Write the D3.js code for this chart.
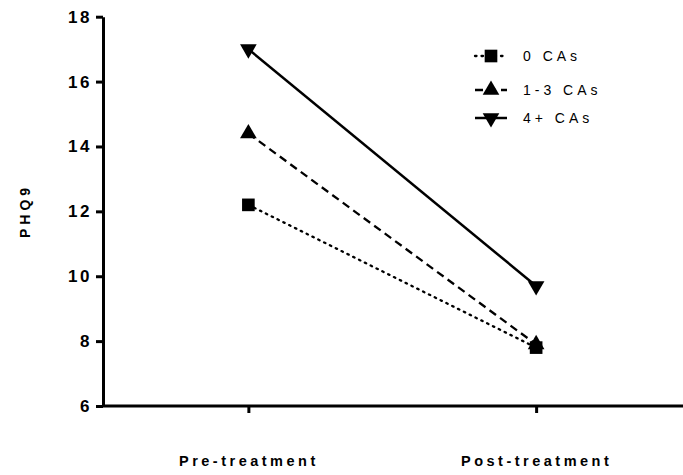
<!DOCTYPE html>
<html>
<head>
<meta charset="utf-8">
<script src="https://cdn.jsdelivr.net/npm/d3@7"></script>
<style>
  body { margin: 0; background: #fff; }
  svg text { font-family: "Liberation Sans", Arial, sans-serif; fill: #000; }
</style>
</head>
<body>
<div id="chart"></div>
<script>
// 数据
const timepoints = ['Pre-treatment', 'Post-treatment'];
const groupNames = ['0 CAs', '1-3 CAs', '4+ CAs'];
const zeroCAs = [12.2, 7.8];
const oneToThreeCAs = [14.4, 7.9];
const fourPlusCAs = [17.0, 9.7];
const yTicks = [6, 8, 10, 12, 14, 16, 18];

const series = [
  { name: groupNames[0], values: zeroCAs, dash: '1.5,5', symbol: 'square' },
  { name: groupNames[1], values: oneToThreeCAs, dash: '8,5', symbol: 'up' },
  { name: groupNames[2], values: fourPlusCAs, dash: null, symbol: 'down' }
];

const width = 683, height = 475;
const margin = { top: 16.7, right: 3, bottom: 69, left: 103 };

const svg = d3.select('#chart').append('svg')
  .attr('width', width)
  .attr('height', height);

const x = d3.scalePoint()
  .domain(timepoints)
  .range([margin.left + 1.5, width - margin.right])
  .padding(0.5);

const y = d3.scaleLinear()
  .domain([6, 18])
  .range([height - margin.bottom, margin.top]);

// 坐标轴
const yAxis = svg.append('g')
  .attr('transform', `translate(${margin.left},0)`)
  .call(d3.axisLeft(y).tickValues(yTicks).tickSize(7).tickPadding(4).tickSizeOuter(0));
yAxis.select('.domain').attr('stroke-width', 3);
yAxis.selectAll('.tick line').attr('stroke-width', 3);
yAxis.selectAll('.tick text')
  .style('font-size', '17px')
  .style('font-weight', 'bold')
  .style('letter-spacing', '2.5px');

const xAxis = svg.append('g')
  .attr('transform', `translate(0,${height - margin.bottom})`)
  .call(d3.axisBottom(x).tickSize(7).tickPadding(43).tickSizeOuter(0));
xAxis.select('.domain')
  .attr('stroke-width', 3)
  .attr('d', `M${margin.left},0H${width}`);
xAxis.selectAll('.tick line').attr('stroke-width', 3);
xAxis.selectAll('.tick text')
  .style('font-size', '14.5px')
  .style('font-weight', 'bold')
  .style('letter-spacing', '3.5px');

// Y 轴标题
svg.append('text')
  .attr('transform', 'translate(30,211) rotate(-90)')
  .attr('text-anchor', 'middle')
  .style('font-size', '14px')
  .style('font-weight', 'bold')
  .style('letter-spacing', '4px')
  .text('PHQ9');

function symbolPath(kind) {
  if (kind === 'square') return d3.symbol(d3.symbolSquare, 160)();
  return d3.symbol(d3.symbolTriangle, 120)();
}
function symbolRotate(kind) {
  return kind === 'down' ? ' rotate(180)' : '';
}

const line = d3.line()
  .x((d, i) => x(timepoints[i]))
  .y(d => y(d));

// 折线
series.forEach(s => {
  svg.append('path')
    .datum(s.values)
    .attr('fill', 'none')
    .attr('stroke', '#000')
    .attr('stroke-width', s.dash ? 2.3 : 2.5)
    .attr('stroke-linecap', s.dash && s.dash.startsWith('1.5') ? 'round' : 'butt')
    .attr('stroke-dasharray', s.dash)
    .attr('d', line);

  svg.selectAll(null)
    .data(s.values)
    .enter()
    .append('path')
    .attr('d', symbolPath(s.symbol))
    .attr('transform', (d, i) => `translate(${x(timepoints[i])},${y(d)})${symbolRotate(s.symbol)}`)
    .attr('fill', '#000');
});

// 图例
const legend = svg.append('g').attr('transform', 'translate(475,56)');
const items = legend.selectAll('g')
  .data(series)
  .enter()
  .append('g')
  .attr('transform', (d, i) => `translate(0,${[0, 34, 62][i]})`);

items.append('line')
  .attr('x1', 0).attr('x2', 32)
  .attr('stroke', '#000')
  .attr('stroke-width', d => d.dash ? 2.3 : 2.5)
  .attr('stroke-linecap', d => d.dash && d.dash.startsWith('1.5') ? 'round' : 'butt')
  .attr('stroke-dasharray', d => d.dash);

items.append('path')
  .attr('d', d => symbolPath(d.symbol))
  .attr('transform', d => `translate(16,0)${symbolRotate(d.symbol)}`)
  .attr('fill', '#000');

items.append('text')
  .attr('x', 48)
  .attr('dy', '0.36em')
  .style('font-size', '14px')
  .style('letter-spacing', '4px')
  .text(d => d.name);
</script>
</body>
</html>
